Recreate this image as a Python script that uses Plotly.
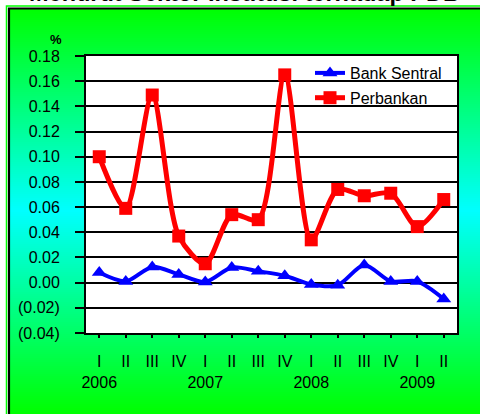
import plotly.graph_objects as go

quarters = ["I", "II", "III", "IV", "I", "II", "III", "IV", "I", "II", "III", "IV", "I", "II"]
years = ["2006", "", "", "", "2007", "", "", "", "2008", "", "", "", "2009", ""]
bank_sentral = [0.008, 0.001, 0.0125, 0.0065, 0.0005, 0.012, 0.009, 0.0055, -0.0015, -0.002, 0.014, 0.001, 0.001, -0.013]
perbankan = [0.100, 0.059, 0.149, 0.037, 0.015, 0.054, 0.050, 0.165, 0.034, 0.074, 0.069, 0.071, 0.0445, 0.066]
ytick_vals = [-0.04, -0.02, 0.0, 0.02, 0.04, 0.06, 0.08, 0.10, 0.12, 0.14, 0.16, 0.18]
ytick_text = ["(0.04)", "(0.02)", "0.00", "0.02", "0.04", "0.06", "0.08", "0.10", "0.12", "0.14", "0.16", "0.18"]

W, H = 480, 414
PL, PR, PT, PB = 86, 457, 56, 333
FONT = "Liberation Sans, Arial, sans-serif"


def px(x):
    """pixel x -> paper"""
    return (x - PL) / (PR - PL)


def py(y):
    """pixel y -> paper"""
    return (PB - y) / (PB - PT)


xs = list(range(len(quarters)))
ticktext = [q + ("<br>" + yr if yr else "") for q, yr in zip(quarters, years)]

fig = go.Figure()
fig.add_trace(go.Scatter(
    x=xs, y=bank_sentral, name="Bank Sentral", mode="lines+markers",
    line=dict(color="#0000FF", width=4, shape="spline", smoothing=0.8),
    marker=dict(symbol="triangle-up", size=13, color="#0000FF"),
    legendgroup="a",
))
fig.add_trace(go.Scatter(
    x=xs, y=perbankan, name="Perbankan", mode="lines+markers",
    line=dict(color="#FF0000", width=5, shape="spline", smoothing=0.8),
    marker=dict(symbol="square", size=13, color="#FF0000"),
    legendgroup="b",
))

shapes = []
# gradient background (green -> cyan -> green)
top, bot = 8, 414
mid = (top + bot) / 2
step = 2
y = top
while y < bot:
    yc = y + step / 2
    t = 1 - abs(yc - mid) / (mid - top)
    t = max(0.0, min(1.0, t))
    b = int(round(255 * t))
    color = "rgb(0,255,%d)" % b
    shapes.append(dict(type="rect", xref="paper", yref="paper", layer="below",
                       x0=px(top), x1=px(482), y0=py(y), y1=py(min(y + step + 0.5, bot + 2)),
                       line=dict(width=0), fillcolor=color))
    y += step


def frame_path(x0, y0, x1, y1):
    return "M %f,%f L %f,%f L %f,%f" % (px(x0), py(y1), px(x0), py(y0), px(x1), py(y0))


# outer frame: thin green outline then black line (left and top edges visible)
shapes.append(dict(type="path", xref="paper", yref="paper", layer="below",
                   path=frame_path(6.5, 6, 482, 416),
                   line=dict(width=1.5, color="#00FF00")))
shapes.append(dict(type="path", xref="paper", yref="paper", layer="below",
                   path=frame_path(9, 8.5, 482, 416),
                   line=dict(width=2.2, color="black")))
# plot area white
shapes.append(dict(type="rect", xref="paper", yref="paper", layer="below",
                   x0=0, x1=1, y0=0, y1=1, line=dict(width=0), fillcolor="white"))

annotations = [
    dict(text="<b>Menurut Sektor Institusi terhadap PDB</b>", xref="paper", yref="paper",
         x=px(244), y=py(-7), xanchor="center", yanchor="middle", showarrow=False,
         font=dict(family=FONT, size=23.5, color="black")),
    dict(text="<b>%</b>", xref="paper", yref="paper", x=px(56), y=py(39),
         xanchor="center", yanchor="middle", showarrow=False,
         font=dict(family=FONT, size=13, color="black")),
]

fig.update_layout(
    width=W, height=H,
    margin=dict(l=PL, r=W - PR, t=PT, b=H - PB, pad=0),
    paper_bgcolor="white", plot_bgcolor="white",
    font=dict(family=FONT, size=16, color="black"),
    shapes=shapes, annotations=annotations,
    showlegend=True,
    legend=dict(x=px(310), y=py(56), xanchor="left", yanchor="top",
                bgcolor="rgba(0,0,0,0)", borderwidth=0, tracegroupgap=1,
                font=dict(family=FONT, size=16, color="black")),
)
fig.update_xaxes(
    range=[-0.5, len(xs) - 0.5], tickvals=xs, ticktext=ticktext,
    showgrid=False, zeroline=False, showline=True, linecolor="black", linewidth=2, mirror=True,
    ticks="outside", ticklen=3, tickwidth=2, tickcolor="black", ticklabelstandoff=10,
    tickfont=dict(family=FONT, size=16, color="black"), tickangle=0,
)
fig.update_yaxes(
    range=[-0.04, 0.18], tickvals=ytick_vals, ticktext=ytick_text,
    showgrid=True, gridcolor="black", gridwidth=1.5, zeroline=False,
    showline=True, linecolor="black", linewidth=2, mirror=True,
    ticks="outside", ticklen=9, tickwidth=2, tickcolor="black", ticklabelstandoff=12,
    tickfont=dict(family=FONT, size=16, color="black"),
)

fig.write_html(
    "out.html",
    config={"displayModeBar": False},
    post_script="document.body.style.margin='0';document.body.style.overflow='hidden';",
)
